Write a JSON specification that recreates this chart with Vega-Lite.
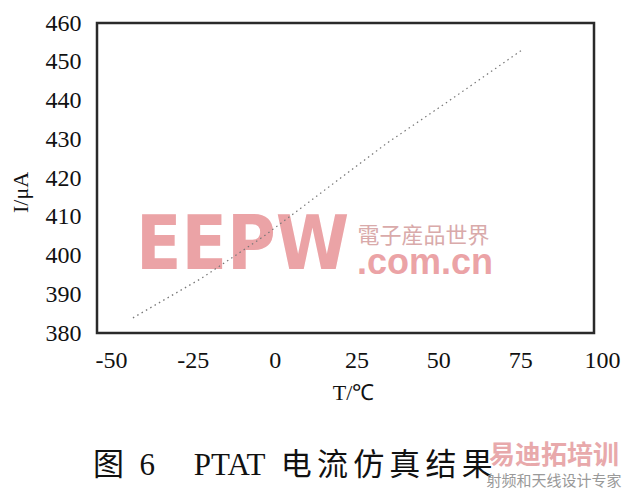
{
  "$schema": "https://vega.github.io/schema/vega-lite/v6.json",
  "width": 497,
  "height": 310,
  "autosize": {"type": "none"},
  "padding": {"left": 97, "top": 23, "right": 42, "bottom": 165},
  "background": "white",
  "config": {
    "view": {"stroke": "#2a2a2a", "strokeWidth": 2.5},
    "axis": {
      "labelFont": "Liberation Serif",
      "labelFontSize": 24,
      "labelColor": "#111",
      "labelOverlap": false,
      "labelFlush": false,
      "titleFont": "Liberation Serif",
      "titleFontSize": 22,
      "titleFontWeight": "normal",
      "titleColor": "#111",
      "grid": false,
      "ticks": false,
      "domain": false
    }
  },
  "datasets": {
    "curve": [
      {"T": -43.3, "I": 383.9},
      {"T": -22.2, "I": 394.2},
      {"T": -3.6, "I": 404.8},
      {"T": 15, "I": 416.7},
      {"T": 34.3, "I": 429.0},
      {"T": 53.6, "I": 440.1},
      {"T": 75.5, "I": 453.0}
    ],
    "marks": [
      {"T": -9.8, "I": 402.1, "label": "EEPW", "kind": "logo"},
      {"T": 45.5, "I": 405.0, "label": "電子産品世界", "kind": "cn"},
      {"T": 45.9, "I": 398.1, "label": ".com.cn", "kind": "com"}
    ],
    "caption": [
      {"T": -55.5, "I": 345.7, "label": "图\u00a0\u00a06\u00a0\u00a0\u00a0\u00a0\u00a0PTAT\u00a0\u00a0电\u2006流\u2006仿\u2006真\u2006结\u2006果"}
    ],
    "wm": [
      {"T": 85.3, "I": 348.3, "label": "易迪拓培训"},
      {"T": 85.3, "I": 341.9, "label": "射频和天线设计专家"}
    ]
  },
  "encoding": {
    "x": {
      "field": "T", "type": "quantitative",
      "scale": {"domain": [-50, 100], "range": [14, 505], "nice": false, "zero": false},
      "axis": {"values": [-50, -25, 0, 25, 50, 75, 100], "labelExpr": "datum.value + ''", "labelOverlap": false, "labelFlush": false, "labelPadding": 15, "title": "T/℃", "titleX": 256, "titleY": 59, "titleBaseline": "middle", "titleAlign": "center"}
    },
    "y": {
      "field": "I", "type": "quantitative",
      "scale": {"domain": [380, 460], "nice": false, "zero": false},
      "axis": {"values": [380, 390, 400, 410, 420, 430, 440, 450, 460], "tickCount": 9, "labelExpr": "datum.value + ''", "labelOverlap": false, "labelFlush": false, "labelSeparation": 0, "labelPadding": 16, "title": "I/μA", "titleX": -77, "titleY": 169, "titleBaseline": "middle", "titleAlign": "center", "titleAngle": -90}
    }
  },
  "layer": [
    {
      "data": {"name": "marks"},
      "transform": [{"filter": "datum.kind == 'logo'"}],
      "mark": {"type": "text", "font": "'DejaVu Sans Condensed', 'Liberation Sans'", "fontWeight": "bold", "fontSize": 74, "color": "#eba3a6", "baseline": "middle", "align": "center"},
      "encoding": {"text": {"field": "label"}}
    },
    {
      "data": {"name": "marks"},
      "transform": [{"filter": "datum.kind == 'cn'"}],
      "mark": {"type": "text", "font": "Noto Sans CJK TC", "fontSize": 22, "color": "#d9aaaa", "baseline": "middle", "align": "center"},
      "encoding": {"text": {"field": "label"}}
    },
    {
      "data": {"name": "marks"},
      "transform": [{"filter": "datum.kind == 'com'"}],
      "mark": {"type": "text", "font": "Liberation Sans", "fontWeight": "bold", "fontSize": 36, "color": "#eba3a6", "baseline": "middle", "align": "center"},
      "encoding": {"text": {"field": "label"}}
    },
    {
      "data": {"name": "curve"},
      "mark": {"type": "line", "color": "#777", "strokeWidth": 1.2, "strokeDash": [1.5, 3.5]},
      "encoding": {}
    },
    {
      "data": {"name": "caption"},
      "mark": {"type": "text", "font": "'Liberation Serif', 'Noto Sans CJK SC'", "fontSize": 31, "color": "#111", "baseline": "middle", "align": "left"},
      "encoding": {"text": {"field": "label"}}
    },
    {
      "data": {"name": "wm"},
      "transform": [{"filter": "datum.label == '易迪拓培训'"}],
      "mark": {"type": "text", "font": "Noto Sans CJK SC", "fontWeight": "bold", "fontSize": 26, "color": "#e6a0a3", "baseline": "middle", "align": "center", "opacity": 0.9},
      "encoding": {"text": {"field": "label"}}
    },
    {
      "data": {"name": "wm"},
      "transform": [{"filter": "datum.label == '射频和天线设计专家'"}],
      "mark": {"type": "text", "font": "Noto Sans CJK SC", "fontSize": 15, "color": "#999999", "baseline": "middle", "align": "center"},
      "encoding": {"text": {"field": "label"}}
    }
  ]
}
